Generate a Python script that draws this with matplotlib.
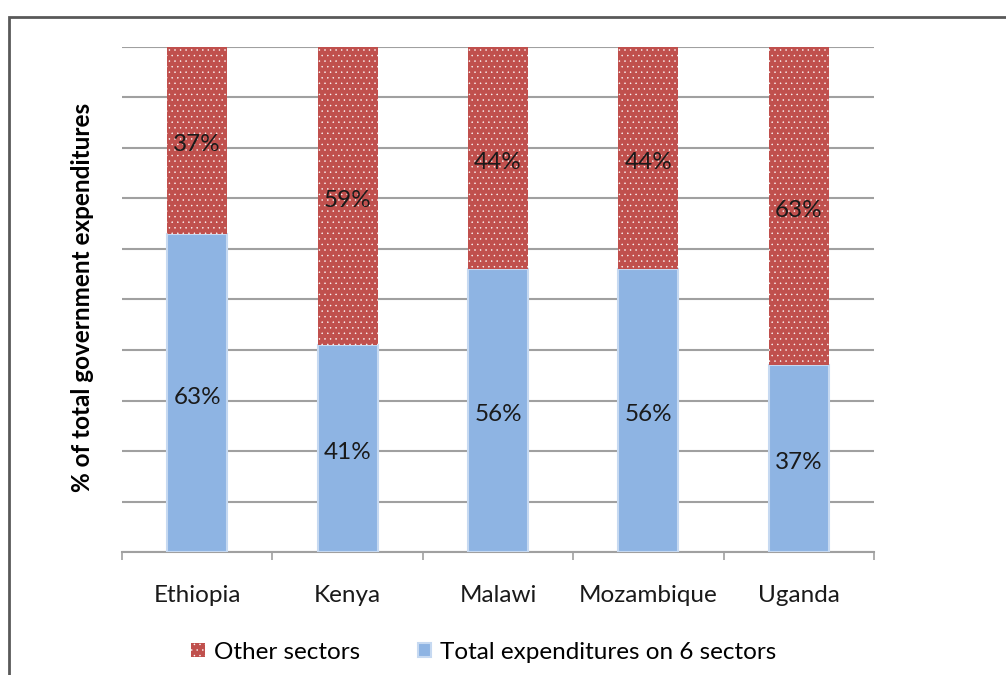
import matplotlib.pyplot as plt
from matplotlib.patches import Rectangle
from matplotlib.ticker import FixedLocator
from matplotlib.transforms import offset_copy

countries = ["Ethiopia", "Kenya", "Malawi", "Mozambique", "Uganda"]
six_sectors = [63, 41, 56, 56, 37]
other_sectors = [37, 59, 44, 44, 63]

plt.rcParams['font.family'] = ['Lato', 'DejaVu Sans']
plt.rcParams['hatch.linewidth'] = 0.3

fs = 17.5
fig = plt.figure(figsize=(10.06, 6.75), dpi=100)
ax = fig.add_axes([0.1213, 0.1822, 0.7475, 0.7482])

x = list(range(len(countries)))
w = 0.4

b1 = ax.bar(x, six_sectors, w, color='#8EB4E3', edgecolor='#C6D9F1', linewidth=1.5,
            label='Total expenditures on 6 sectors', zorder=3)
b2 = ax.bar(x, other_sectors, w, bottom=six_sectors, color='#C0504D', edgecolor='white',
            linewidth=0, hatch='...', label='Other sectors', zorder=3)

# labels sit a bit below the segment centre, like the original
lab_tr = offset_copy(ax.transData, fig=fig, y=-3, units='points')
for i in x:
    ax.text(i, six_sectors[i] / 2, f"{six_sectors[i]}%", ha='center', va='center',
            fontsize=fs, color='#1a1a1a', zorder=4, transform=lab_tr)
    ax.text(i, six_sectors[i] + other_sectors[i] / 2, f"{other_sectors[i]}%", ha='center',
            va='center', fontsize=fs, color='#1a1a1a', zorder=4, transform=lab_tr)

ax.set_xlim(-0.5, 4.5)
ax.set_ylim(0, 100)
ax.set_yticks(range(0, 101, 10))
ax.set_yticklabels([])
ax.tick_params(axis='y', length=0)
ax.grid(axis='y', color='#A0A0A0', linewidth=1.5, zorder=0)

ax.set_xticks(x)
ax.set_xticklabels(countries, fontsize=fs, color='#1a1a1a')
ax.tick_params(axis='x', which='major', length=0, pad=24)
ax.xaxis.set_minor_locator(FixedLocator([i - 0.5 for i in range(len(countries) + 1)]))
ax.tick_params(axis='x', which='minor', length=6, width=1.2, color='#A0A0A0')

for s in ['left', 'right', 'top']:
    ax.spines[s].set_visible(False)
ax.spines['bottom'].set_color('#A0A0A0')
ax.spines['bottom'].set_linewidth(1.5)

ax.set_ylabel('% of total government expenditures', fontsize=fs, fontweight='bold')
ax.yaxis.set_label_coords(-0.037, 0.505)

fig.legend(handles=[b2, b1], loc='center', bbox_to_anchor=(0.481, 0.034), ncol=2,
           frameon=False, fontsize=fs, handlelength=0.55, handleheight=0.55,
           handletextpad=0.37, columnspacing=2.4)

fig.add_artist(Rectangle((8.5 / 1006, -0.1), 1.2, 1.1 - 17.5 / 675, transform=fig.transFigure,
                         fill=False, edgecolor='#595959', linewidth=2))

fig.savefig('out.png', dpi=100)
